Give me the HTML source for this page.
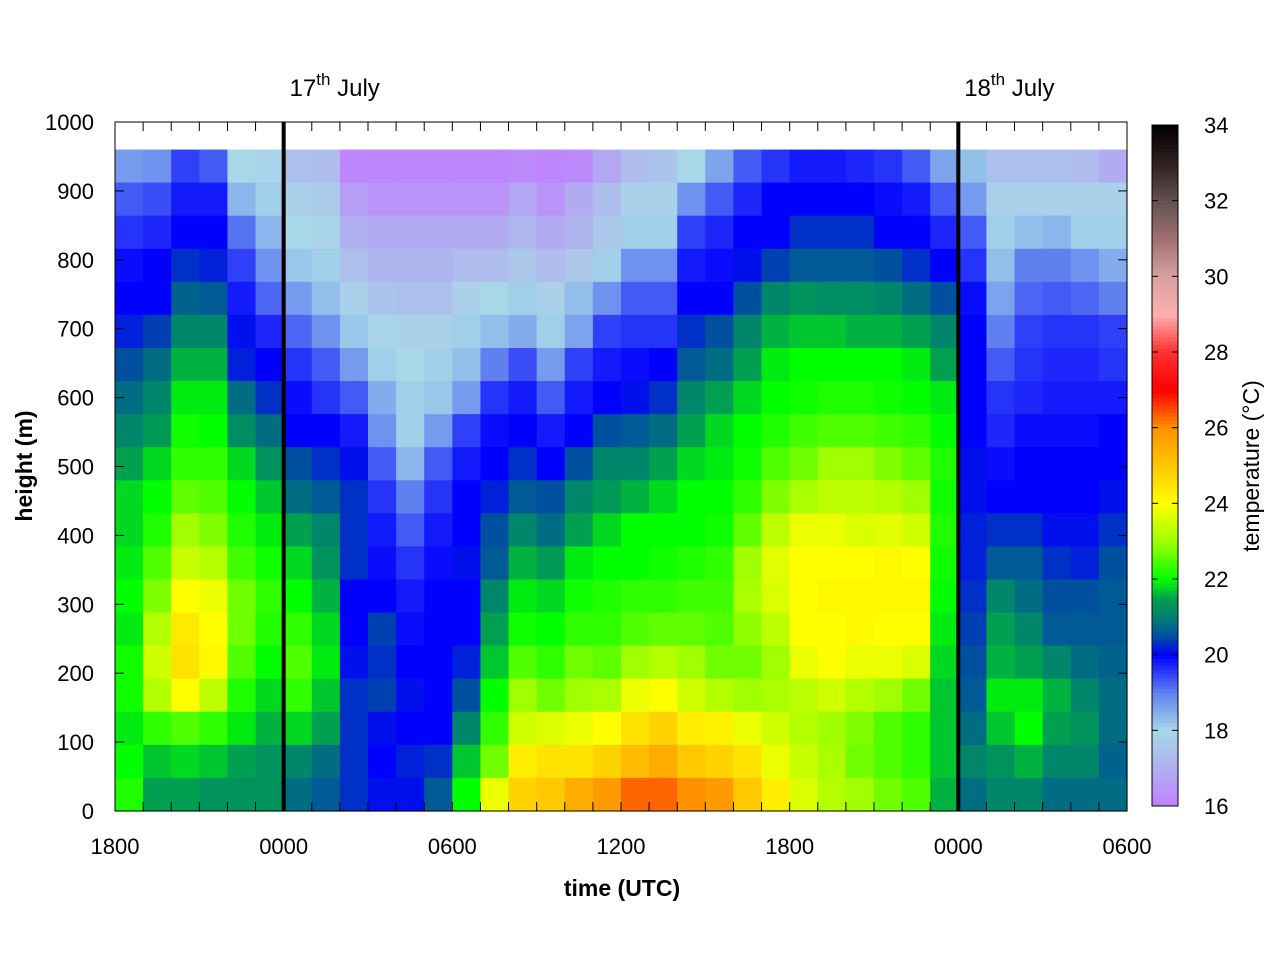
<!DOCTYPE html>
<html><head><meta charset="utf-8"><title>Temperature profile</title>
<style>
html,body{margin:0;padding:0;background:#fff;}
svg{display:block;font-family:"Liberation Sans",sans-serif;}
</style></head>
<body>
<svg id="chart" width="1280" height="960" viewBox="0 0 1280 960" xmlns="http://www.w3.org/2000/svg">
<rect width="1280" height="960" fill="#fff"/>
<g id="cells"></g>
<g id="axes"></g>
<g id="cbar"></g>
</svg>
<script>
// time: hours since 1800 on 16th July (hourly columns)
const hours = [0,1,2,3,4,5,6,7,8,9,10,11,12,13,14,15,16,17,18,19,20,21,22,23,24,25,26,27,28,29,30,31,32,33,34,35];
// height bins (m), bottom edges, each 48 m
const heights = [0,48,96,144,192,240,288,336,384,432,480,528,576,624,672,720,768,816,864,912];
// temperature per hour column, listed from top bin (912 m) down to bottom bin (0 m)
const temps = [
[18.7,19.3,19.6,19.9,20.0,20.2,20.5,20.8,21.1,21.5,21.8,21.8,21.9,22.0,21.9,22.1,22.1,21.9,22.0,22.2],
[18.8,19.4,19.7,20.0,20.0,20.4,20.8,21.1,21.4,21.8,22.0,22.2,22.5,22.8,23.2,23.5,23.2,22.3,21.7,21.5],
[19.5,19.8,20.0,20.3,20.7,21.1,21.6,21.9,22.1,22.3,22.6,23.0,23.4,24.0,24.4,24.5,24.0,22.5,21.8,21.5],
[19.3,19.8,20.0,20.2,20.6,21.1,21.6,21.9,22.0,22.3,22.5,22.8,23.2,23.8,24.0,24.1,23.3,22.3,21.7,21.3],
[18.0,18.4,19.1,19.5,19.8,20.1,20.2,20.8,21.2,21.8,22.0,22.2,22.4,22.7,22.7,22.5,22.2,21.9,21.5,21.3],
[17.9,18.1,18.4,18.8,19.2,19.7,20.0,20.3,20.8,21.3,21.7,21.9,22.1,22.3,22.2,22.0,21.8,21.6,21.3,21.3],
[17.4,17.8,18.0,18.2,18.7,19.2,19.6,19.9,20.0,20.5,20.8,21.5,21.8,22.0,22.3,22.5,22.3,21.8,21.1,20.8],
[17.3,17.7,17.9,18.1,18.3,18.8,19.3,19.6,20.0,20.3,20.6,21.1,21.3,21.6,21.8,21.9,21.7,21.5,20.8,20.6],
[16.1,16.6,17.0,17.4,17.8,18.2,18.7,19.3,19.8,20.1,20.3,20.3,20.3,20.0,20.0,20.1,20.3,20.3,20.3,20.3],
[16.1,16.4,16.9,17.1,17.5,17.9,18.1,18.5,18.8,19.3,19.6,19.8,19.9,20.0,20.4,20.3,20.4,20.1,20.0,20.1],
[16.1,16.4,16.9,17.1,17.4,17.8,18.0,18.1,18.1,18.4,19.0,19.3,19.6,19.8,19.9,20.0,20.1,20.0,20.2,20.1],
[16.1,16.4,16.9,17.1,17.4,17.8,18.1,18.2,18.7,19.3,19.6,19.8,19.9,20.0,20.0,20.0,20.0,20.0,20.3,20.6],
[16.1,16.4,16.9,17.3,17.8,18.1,18.3,18.7,19.5,19.8,20.0,20.0,20.1,20.0,20.0,20.2,20.5,21.1,21.7,22.0],
[16.1,16.4,16.9,17.3,18.0,18.3,19.0,19.6,19.9,20.0,20.2,20.5,20.6,21.1,21.5,21.7,22.0,22.3,22.7,23.8],
[16.2,16.8,17.2,17.6,18.1,18.5,19.4,19.8,20.0,20.3,20.6,21.1,21.6,21.9,22.1,22.5,23.0,23.5,24.3,24.8],
[16.1,16.4,16.9,17.3,17.8,18.1,18.7,19.3,19.8,20.0,20.5,20.8,21.4,21.8,22.0,22.3,22.7,23.6,24.5,25.0],
[16.2,16.9,17.1,17.6,18.3,18.6,19.5,19.8,20.0,20.5,21.1,21.5,21.9,22.1,22.3,22.7,23.0,23.8,24.5,25.5],
[16.8,17.3,17.6,18.1,18.8,19.5,19.8,20.0,20.5,21.1,21.4,21.8,22.0,22.2,22.3,22.6,23.1,24.0,24.8,25.8],
[17.3,17.8,18.1,18.8,19.3,19.6,19.9,20.1,20.6,21.1,21.6,22.0,22.0,22.3,22.5,23.0,23.8,24.5,25.2,26.3],
[17.5,17.8,18.1,18.8,19.3,19.6,20.0,20.3,20.8,21.5,21.8,22.0,22.1,22.3,22.6,23.2,24.0,24.8,25.5,26.3],
[18.0,18.8,19.5,19.8,20.0,20.3,20.6,21.1,21.5,21.8,22.0,22.0,22.2,22.4,22.6,23.0,23.5,24.3,25.0,26.0],
[18.6,19.3,19.7,19.9,20.0,20.5,20.8,21.5,21.8,21.9,22.0,22.1,22.3,22.4,22.5,22.7,23.2,24.2,24.8,25.8],
[19.3,19.7,20.0,20.1,20.5,21.1,21.5,21.8,22.0,22.1,22.3,22.6,23.0,23.1,22.9,22.7,23.0,23.8,24.5,25.0],
[19.6,20.0,20.0,20.4,21.1,21.6,21.9,22.0,22.2,22.5,22.8,23.3,23.7,23.6,23.3,23.0,23.1,23.5,23.8,24.3],
[19.8,20.0,20.3,20.6,21.3,21.7,22.0,22.1,22.4,22.7,23.1,23.8,24.0,24.0,24.0,23.8,23.3,23.2,23.4,23.6],
[19.8,20.0,20.3,20.6,21.2,21.7,22.0,22.2,22.5,23.0,23.3,23.8,24.0,24.1,24.0,24.0,23.5,23.0,23.1,23.2],
[19.7,20.0,20.3,20.6,21.2,21.6,22.0,22.2,22.5,23.0,23.3,23.6,24.0,24.1,24.1,23.8,23.2,22.8,22.7,23.0],
[19.6,19.9,20.0,20.5,21.1,21.6,22.0,22.1,22.4,22.8,23.2,23.7,24.1,24.1,24.0,23.8,23.0,22.5,22.5,22.7],
[19.3,19.8,20.0,20.3,20.8,21.5,21.9,22.0,22.3,22.6,23.0,23.5,24.0,24.1,24.0,23.6,22.7,22.3,22.3,22.5],
[18.6,19.3,19.7,20.0,20.5,21.1,21.5,21.9,22.0,22.2,22.1,22.2,22.1,22.0,21.9,21.8,21.7,21.7,21.7,21.6],
[18.3,18.7,19.3,19.6,19.9,20.0,20.0,20.0,20.0,20.1,20.1,20.2,20.2,20.3,20.4,20.5,20.6,20.8,21.1,20.8],
[17.4,17.8,18.1,18.3,18.6,19.0,19.3,19.6,19.7,19.9,20.0,20.3,20.6,21.1,21.5,21.6,21.9,21.7,21.3,21.1],
[17.4,17.8,18.3,19.0,19.2,19.5,19.6,19.7,19.9,20.0,20.0,20.3,20.6,20.8,21.1,21.5,21.9,22.0,21.6,21.1],
[17.4,17.8,18.4,19.0,19.3,19.6,19.7,19.8,19.9,20.0,20.0,20.1,20.3,20.5,20.6,21.1,21.6,21.5,21.1,20.8],
[17.3,17.8,18.1,18.8,19.2,19.6,19.7,19.8,19.9,20.0,20.0,20.1,20.2,20.5,20.6,20.8,21.1,21.3,21.1,20.8],
[16.9,17.8,18.1,18.5,19.0,19.5,19.6,19.8,20.0,20.0,20.1,20.3,20.5,20.6,20.6,20.7,20.8,20.8,20.7,20.8]
];
const yTicks = [0,100,200,300,400,500,600,700,800,900,1000];
const xTickHours = [0,6,12,18,24,30,36];
const xTickLabels = ["1800","0000","0600","1200","1800","0000","0600"];
const dayLineHours = [6,30];
const dayLabels = ["17","18"];
const cbTicks = [16,18,20,22,24,26,28,30,32,34];

const NS="http://www.w3.org/2000/svg";
const X0=115,X1=1127,Y0=811,Y1=122;
const xs=h=>X0+(h/36)*(X1-X0);
const ys=m=>Y0-(m/1000)*(Y0-Y1);
const stops=[[16,[192,128,255]],[17,[176,176,240]],[18,[168,216,232]],[19,[96,128,240]],[20,[0,0,255]],[20.5,[0,80,160]],[21,[0,128,112]],[21.5,[0,160,80]],[22,[0,255,0]],[23,[160,255,0]],[24,[255,255,0]],[26,[255,144,0]],[27,[255,0,0]],[28,[255,48,48]],[29,[255,176,176]],[30,[216,160,160]],[31,[160,112,112]],[32,[100,80,80]],[33,[48,32,32]],[34,[0,0,0]]];
function cmap(v){
  if(v<=stops[0][0])return 'rgb('+stops[0][1]+')';
  for(let i=1;i<stops.length;i++){
    if(v<=stops[i][0]){const a=stops[i-1],b=stops[i],t=(v-a[0])/(b[0]-a[0]);
      const c=a[1].map((x,k)=>Math.round(x+(b[1][k]-x)*t));return 'rgb('+c.join(',')+')';}
  }
  return 'rgb(0,0,0)';
}
function mk(tag,attrs,parent){const e=document.createElementNS(NS,tag);for(const k in attrs)e.setAttribute(k,attrs[k]);parent.appendChild(e);return e;}

const cells=document.getElementById('cells');
hours.forEach((h,j)=>{
  const col=temps[j];
  const n=heights.length;
  for(let r=0;r<n;r++){
    const bin=heights[n-1-r];
    const top=ys(bin+48), bot=ys(bin);
    const e=mk('rect',{x:xs(h),y:top,width:xs(h+1)-xs(h)+0.6,height:bot-top+0.6,fill:cmap(col[r])},cells);
    
    
  }
});

const ax=document.getElementById('axes');
const fr=mk('rect',{x:X0,y:Y1,width:X1-X0,height:Y0-Y1,fill:'none',stroke:'#000','stroke-width':1},ax);


for(let h=0;h<=36;h++){
  const x=xs(h);
  mk('line',{x1:x,y1:Y0,x2:x,y2:Y0-9,stroke:'#000','stroke-width':1},ax);
  mk('line',{x1:x,y1:Y1,x2:x,y2:Y1+9,stroke:'#000','stroke-width':1},ax);
}
xTickHours.forEach((h,i)=>{
  const t=mk('text',{x:xs(h),y:854,'text-anchor':'middle','font-size':22,fill:'#000'},ax);
  t.textContent=xTickLabels[i];
  
  
});
yTicks.forEach(v=>{
  const y=ys(v);
  mk('line',{x1:X0,y1:y,x2:X0+9,y2:y,stroke:'#000'},ax);
  mk('line',{x1:X1,y1:y,x2:X1-9,y2:y,stroke:'#000'},ax);
  const t=mk('text',{x:94,y:y+8,'text-anchor':'end','font-size':22,fill:'#000'},ax);
  t.textContent=v;
  
  
});
dayLineHours.forEach((h,i)=>{
  const l=mk('line',{x1:xs(h),y1:Y1,x2:xs(h),y2:Y0,stroke:'#000','stroke-width':4},ax);
  
  
  const t=mk('text',{x:xs(h)+51,y:96,'text-anchor':'middle','font-size':24,fill:'#000'},ax);
  t.innerHTML=dayLabels[i]+'<tspan dy="-11" font-size="17">th</tspan><tspan dy="11"> July</tspan>';
  
  
});
const xt=mk('text',{x:622,y:896,'text-anchor':'middle','font-size':23,'font-weight':'bold',fill:'#000'},ax);
xt.textContent='time (UTC)';


const yt=mk('text',{x:0,y:0,'text-anchor':'middle','font-size':23,'font-weight':'bold',fill:'#000',transform:'translate(32,466) rotate(-90)'},ax);
yt.textContent='height (m)';



const cb=document.getElementById('cbar');
const CX=1152,CW=26,CT=125,CB=806;
const cy=v=>CB-(v-16)/18*(CB-CT);
for(let i=0;i<180;i++){
  const v=16+i*0.1;
  mk('rect',{x:CX,y:cy(v+0.1),width:CW,height:cy(v)-cy(v+0.1)+0.5,fill:cmap(v+0.05)},cb);
}
const cf=mk('rect',{x:CX,y:CT,width:CW,height:CB-CT,fill:'none',stroke:'#000'},cb);


cbTicks.forEach(v=>{
  const y=cy(v);
  mk('line',{x1:CX,y1:y,x2:CX+6,y2:y,stroke:'#000'},cb);
  mk('line',{x1:CX+CW,y1:y,x2:CX+CW-6,y2:y,stroke:'#000'},cb);
  const t=mk('text',{x:1204,y:y+8,'font-size':22,fill:'#000'},cb);
  t.textContent=v;
  
  
});
const ct=mk('text',{x:0,y:0,'text-anchor':'middle','font-size':23,fill:'#000',transform:'translate(1259,466) rotate(-90)'},cb);
ct.textContent='temperature (°C)';


</script>
</body></html>
